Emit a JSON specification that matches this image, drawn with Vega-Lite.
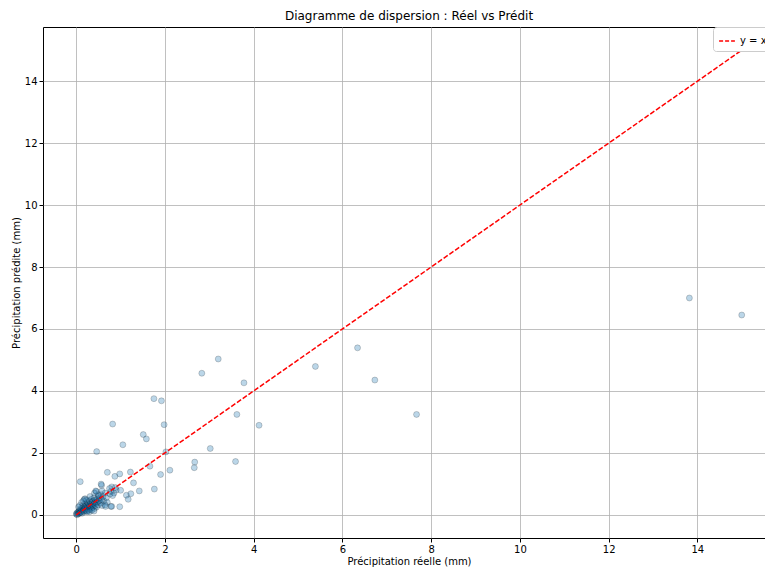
{
  "$schema": "https://vega.github.io/schema/vega-lite/v6.json",
  "autosize": {"type": "none"},
  "padding": {"left": 43, "top": 27, "right": 0, "bottom": 29},
  "width": 732,
  "height": 511,
  "background": "white",
  "title": {"text": "Diagramme de dispersion : Réel vs Prédit", "fontSize": 12, "font": "DejaVu Sans", "fontWeight": "normal", "offset": 4, "color": "black"},
  "config": {
    "font": "DejaVu Sans",
    "view": {"stroke": "black", "strokeWidth": 1},
    "axis": {
      "grid": true, "gridColor": "#b0b0b0", "gridWidth": 0.8,
      "domain": false,
      "tickColor": "black", "tickSize": 4, "labelPadding": 2,
      "labelFontSize": 10, "labelColor": "black", "labelFont": "DejaVu Sans",
      "titleFontSize": 10, "titleFontWeight": "normal", "titleColor": "black", "titleFont": "DejaVu Sans"
    },
    "legend": {"symbolDash": [4, 2]}
  },
  "datasets": {
    "pts": [
      {"reel": 0.0, "pred": 0.02}, {"reel": 0.01, "pred": 0.05}, {"reel": 0.02, "pred": 0.0}, {"reel": 0.03, "pred": 0.08},
      {"reel": 0.04, "pred": 0.03}, {"reel": 0.05, "pred": 0.1}, {"reel": 0.06, "pred": 0.04}, {"reel": 0.07, "pred": 0.12},
      {"reel": 0.08, "pred": 0.06}, {"reel": 0.09, "pred": 0.15}, {"reel": 0.1, "pred": 0.08}, {"reel": 0.1, "pred": 0.2},
      {"reel": 0.11, "pred": 0.1}, {"reel": 0.12, "pred": 0.18}, {"reel": 0.13, "pred": 0.05}, {"reel": 0.14, "pred": 0.22},
      {"reel": 0.15, "pred": 0.12}, {"reel": 0.15, "pred": 0.3}, {"reel": 0.16, "pred": 0.16}, {"reel": 0.17, "pred": 0.25},
      {"reel": 0.18, "pred": 0.1}, {"reel": 0.18, "pred": 0.5}, {"reel": 0.19, "pred": 0.2}, {"reel": 0.2, "pred": 0.28},
      {"reel": 0.2, "pred": 0.15}, {"reel": 0.21, "pred": 0.35}, {"reel": 0.22, "pred": 0.22}, {"reel": 0.23, "pred": 0.12},
      {"reel": 0.24, "pred": 0.3}, {"reel": 0.25, "pred": 0.2}, {"reel": 0.25, "pred": 0.4}, {"reel": 0.26, "pred": 0.26},
      {"reel": 0.27, "pred": 0.15}, {"reel": 0.28, "pred": 0.35}, {"reel": 0.29, "pred": 0.25}, {"reel": 0.3, "pred": 0.3},
      {"reel": 0.3, "pred": 0.45}, {"reel": 0.31, "pred": 0.18}, {"reel": 0.32, "pred": 0.38}, {"reel": 0.33, "pred": 0.28},
      {"reel": 0.34, "pred": 0.5}, {"reel": 0.35, "pred": 0.22}, {"reel": 0.35, "pred": 0.35}, {"reel": 0.36, "pred": 0.42},
      {"reel": 0.37, "pred": 0.3}, {"reel": 0.38, "pred": 0.25}, {"reel": 0.39, "pred": 0.45}, {"reel": 0.4, "pred": 0.35},
      {"reel": 0.4, "pred": 0.55}, {"reel": 0.41, "pred": 0.2}, {"reel": 0.42, "pred": 0.4}, {"reel": 0.43, "pred": 0.3},
      {"reel": 0.44, "pred": 0.48}, {"reel": 0.45, "pred": 0.38}, {"reel": 0.45, "pred": 0.75}, {"reel": 0.46, "pred": 0.25},
      {"reel": 0.47, "pred": 0.5}, {"reel": 0.48, "pred": 0.42}, {"reel": 0.5, "pred": 0.32}, {"reel": 0.5, "pred": 0.6},
      {"reel": 0.52, "pred": 0.45}, {"reel": 0.53, "pred": 0.55}, {"reel": 0.55, "pred": 0.38}, {"reel": 0.56, "pred": 0.65},
      {"reel": 0.57, "pred": 0.5}, {"reel": 0.58, "pred": 0.3}, {"reel": 0.6, "pred": 0.58}, {"reel": 0.62, "pred": 0.45},
      {"reel": 0.65, "pred": 0.7}, {"reel": 0.68, "pred": 0.55}, {"reel": 0.7, "pred": 0.4}, {"reel": 0.05, "pred": 0.25},
      {"reel": 0.08, "pred": 0.3}, {"reel": 0.12, "pred": 0.4}, {"reel": 0.2, "pred": 0.52}, {"reel": 0.25, "pred": 0.1},
      {"reel": 0.3, "pred": 0.1}, {"reel": 0.35, "pred": 0.15}, {"reel": 0.4, "pred": 0.12}, {"reel": 0.23, "pred": 0.48},
      {"reel": 0.16, "pred": 0.45}, {"reel": 0.31, "pred": 0.59}, {"reel": 0.65, "pred": 0.32}, {"reel": 0.8, "pred": 0.27},
      {"reel": 0.41, "pred": 0.7}, {"reel": 0.5, "pred": 0.65}, {"reel": 0.76, "pred": 0.67}, {"reel": 0.57, "pred": 0.95},
      {"reel": 0.8, "pred": 0.9}, {"reel": 0.87, "pred": 1.24}, {"reel": 0.98, "pred": 1.32}, {"reel": 0.09, "pred": 1.07},
      {"reel": 0.78, "pred": 0.75}, {"reel": 0.85, "pred": 0.7}, {"reel": 0.82, "pred": 0.62}, {"reel": 0.9, "pred": 0.8},
      {"reel": 0.75, "pred": 0.85}, {"reel": 0.88, "pred": 0.88}, {"reel": 0.56, "pred": 0.99}, {"reel": 0.7, "pred": 1.37},
      {"reel": 1.22, "pred": 1.38}, {"reel": 1.29, "pred": 1.03}, {"reel": 0.44, "pred": 0.77}, {"reel": 0.58, "pred": 0.77},
      {"reel": 1.0, "pred": 0.79}, {"reel": 1.42, "pred": 0.77}, {"reel": 1.76, "pred": 0.83}, {"reel": 1.13, "pred": 0.63},
      {"reel": 1.23, "pred": 0.68}, {"reel": 1.17, "pred": 0.5}, {"reel": 0.98, "pred": 0.26}, {"reel": 0.78, "pred": 0.27},
      {"reel": 0.66, "pred": 0.27}, {"reel": 1.66, "pred": 1.57}, {"reel": 2.11, "pred": 1.44}, {"reel": 1.9, "pred": 1.3},
      {"reel": 0.46, "pred": 2.04}, {"reel": 1.05, "pred": 2.26}, {"reel": 1.51, "pred": 2.59}, {"reel": 1.58, "pred": 2.45},
      {"reel": 0.82, "pred": 2.93}, {"reel": 1.98, "pred": 2.91}, {"reel": 1.75, "pred": 3.75}, {"reel": 1.92, "pred": 3.68},
      {"reel": 2.02, "pred": 2.03}, {"reel": 3.02, "pred": 2.14}, {"reel": 2.67, "pred": 1.7}, {"reel": 2.66, "pred": 1.52},
      {"reel": 3.59, "pred": 1.72}, {"reel": 3.62, "pred": 3.24}, {"reel": 4.12, "pred": 2.89}, {"reel": 3.78, "pred": 4.26},
      {"reel": 2.83, "pred": 4.57}, {"reel": 3.2, "pred": 5.03}, {"reel": 5.39, "pred": 4.79}, {"reel": 6.34, "pred": 5.39},
      {"reel": 6.73, "pred": 4.35}, {"reel": 7.67, "pred": 3.24}, {"reel": 13.82, "pred": 7.0}, {"reel": 15.0, "pred": 6.45}
    ],
    "ligne": [{"reel": 0, "pred": 0}, {"reel": 15, "pred": 15}]
  },
  "layer": [
    {
      "data": {"name": "pts"},
      "mark": {"type": "circle", "size": 36, "fill": "#1f77b4", "fillOpacity": 0.3, "stroke": "#000000", "strokeOpacity": 0.3, "strokeWidth": 0.6, "clip": true},
      "encoding": {
        "x": {"field": "reel", "type": "quantitative", "title": "Précipitation réelle (mm)",
              "scale": {"domain": [-0.75, 15.75], "nice": false, "zero": false},
              "axis": {"values": [0, 2, 4, 6, 8, 10, 12, 14], "titlePadding": 2}},
        "y": {"field": "pred", "type": "quantitative", "title": "Précipitation prédite (mm)",
              "scale": {"domain": [-0.75, 15.75], "nice": false, "zero": false},
              "axis": {"values": [0, 2, 4, 6, 8, 10, 12, 14], "titlePadding": 3}}
      }
    },
    {
      "data": {"name": "ligne"},
      "mark": {"type": "line", "strokeDash": [5, 2], "strokeWidth": 1.5, "clip": true},
      "encoding": {
        "x": {"field": "reel", "type": "quantitative"},
        "y": {"field": "pred", "type": "quantitative"},
        "color": {"datum": "y = x", "scale": {"range": ["#ff0000"]},
                  "legend": {"title": null, "orient": "none", "legendX": 670, "legendY": 0,
                             "fillColor": "white", "strokeColor": "#cccccc", "cornerRadius": 3, "padding": 5,
                             "symbolType": "stroke", "symbolSize": 250, "symbolStrokeWidth": 1.5,
                             "labelFontSize": 10, "labelColor": "black", "labelFont": "DejaVu Sans"}}
      }
    }
  ]
}
